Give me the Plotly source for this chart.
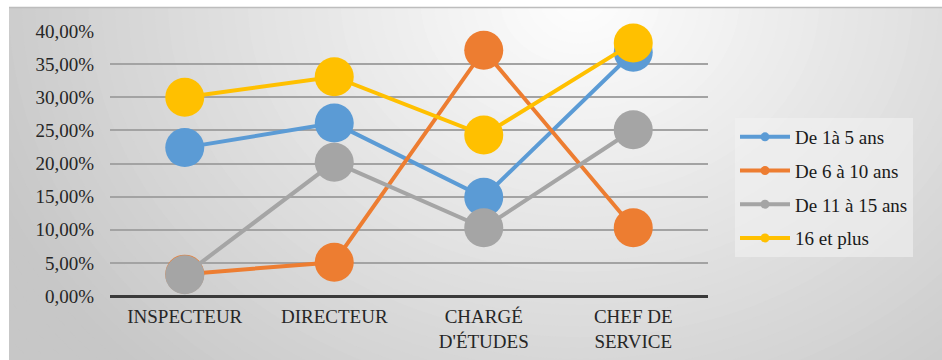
import plotly.graph_objects as go

# données
categories = ["INSPECTEUR", "DIRECTEUR", "CHARGÉ<br>D'ÉTUDES", "CHEF DE<br>SERVICE"]
series_names = ["De 1à 5 ans", "De 6 à 10 ans", "De 11 à 15 ans", "16 et plus"]
de_1_a_5 = [0.224, 0.261, 0.149, 0.368]
de_6_a_10 = [0.033, 0.051, 0.371, 0.103]
de_11_a_15 = [0.032, 0.202, 0.103, 0.251]
plus_16 = [0.300, 0.331, 0.243, 0.382]
colors = ["#5B9BD5", "#ED7D31", "#A5A5A5", "#FFC000"]

W, H = 942, 360
L, R, T, B = 110, 234, 31, 64
PW, PH = W - L - R, H - T - B


def px(x):
    return (x - L) / PW


def py(y):
    return (H - B - y) / PH


fig = go.Figure()

series = [de_1_a_5, de_6_a_10, de_11_a_15, plus_16]
for name, vals, col in zip(series_names, series, colors):
    fig.add_trace(go.Scatter(x=categories, y=vals, mode="lines+markers", name=name,
                             line=dict(color=col, width=4), marker=dict(color=col, size=39),
                             showlegend=False, cliponaxis=False))

# entrées de légende (petits marqueurs)
for name, col in zip(series_names, colors):
    fig.add_trace(go.Scatter(x=[None], y=[None], mode="lines+markers", name=name,
                             legendgroup=name,
                             line=dict(color=col, width=4), marker=dict(color=col, size=9)))

# fond dégradé : ellipses concentriques
shapes = []
cx, cy, rx, ry = 580, 0, 550, 450
n = 60
for i in range(n, 0, -1):
    s = 1.45 * i / n
    g = int(max(199, 255 - 48 * s))
    shapes.append(dict(type="circle", xref="paper", yref="paper", layer="below",
                       x0=px(cx - rx * s), x1=px(cx + rx * s),
                       y0=py(cy + ry * s), y1=py(cy - ry * s),
                       fillcolor=f"rgb({g},{g},{g})", line=dict(width=0)))
# bordures blanches hors du cadre
shapes.append(dict(type="rect", xref="paper", yref="paper", layer="below",
                   x0=px(-5), x1=px(W + 5), y0=py(7), y1=py(-5),
                   fillcolor="white", line=dict(width=0)))
shapes.append(dict(type="rect", xref="paper", yref="paper", layer="below",
                   x0=px(-5), x1=px(9), y0=py(H + 5), y1=py(-5),
                   fillcolor="white", line=dict(width=0)))
shapes.append(dict(type="line", xref="paper", yref="paper", layer="below",
                   x0=px(9), x1=px(W + 5), y0=py(7.5), y1=py(7.5),
                   line=dict(color="#bdbdbd", width=1.5)))

font = "Liberation Serif"

fig.update_layout(
    width=W, height=H,
    margin=dict(l=L, r=R, t=T, b=B, autoexpand=False),
    paper_bgcolor="white",
    plot_bgcolor="rgba(0,0,0,0)",
    separators=", ",
    shapes=shapes,
    font=dict(family=font, size=19, color="#262626"),
    xaxis=dict(range=[-0.5, 3.5], showgrid=False, ticks="", showline=False, zeroline=False,
               ticklabelstandoff=7, tickfont=dict(family=font, size=19, color="#262626")),
    yaxis=dict(range=[0, 0.40], dtick=0.05, tickformat=".2%", showgrid=True,
               gridcolor="#a3a3a3", gridwidth=1.5, zeroline=True,
               zerolinecolor="#3a3a3a", zerolinewidth=3, ticks="",
               ticklabelstandoff=15, tickfont=dict(family=font, size=19, color="#262626")),
    legend=dict(x=px(735), y=py(118), xanchor="left", yanchor="top",
                bgcolor="rgba(242,242,242,0.6)", borderwidth=0,
                itemwidth=50, tracegroupgap=6,
                font=dict(family=font, size=19, color="#1a1a1a")),
    hovermode=False,
)

fig.write_html("out.html", config={"displayModeBar": False},
               post_script="document.body.style.margin='0';")
